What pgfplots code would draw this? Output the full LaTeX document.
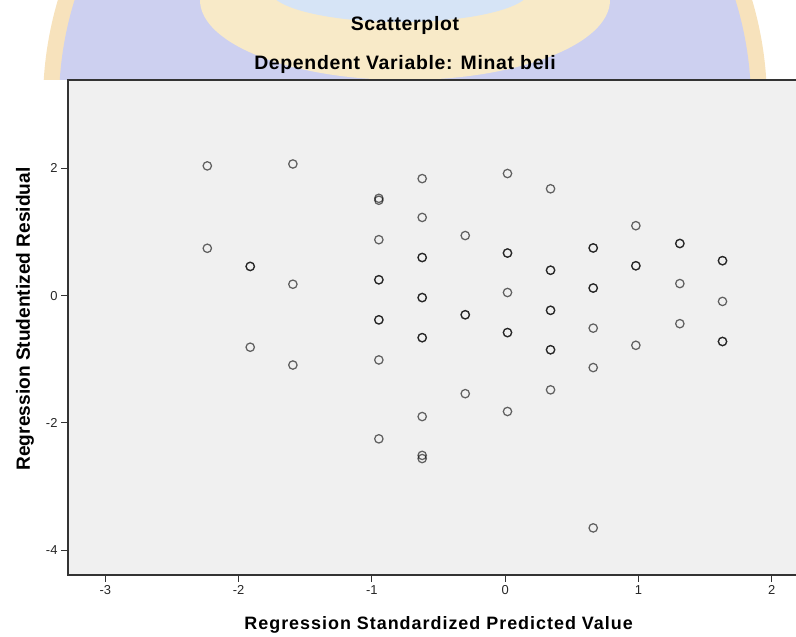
\documentclass[border=0pt]{standalone}
\usepackage{pgfplots}
\pgfplotsset{compat=1.18}
\usepackage{fontspec}
\setmainfont{Liberation Sans}
\newfontfamily\titlefont{Liberation Sans}[LetterSpace=3.5]
\newfontfamily\xlabfont{Liberation Sans}[LetterSpace=5.5]
\definecolor{lav}{RGB}{205,208,240}
\definecolor{ringc}{RGB}{247,226,188}
\definecolor{petal}{RGB}{248,234,200}
\definecolor{sky}{RGB}{214,228,246}
\definecolor{plotbg}{RGB}{240,240,240}

\pgfplotstableread{
x y
-2.235 2.04
-2.235 0.745
-1.913 0.46
-1.913 0.46
-1.913 -0.81
-1.593 2.07
-1.593 0.18
-1.593 -1.09
-0.948 1.50
-0.948 1.53
-0.948 0.88
-0.948 0.25
-0.948 0.25
-0.948 -0.38
-0.948 -0.38
-0.948 -1.01
-0.948 -2.25
-0.623 1.84
-0.623 1.23
-0.623 0.60
-0.623 0.60
-0.623 -0.03
-0.623 -0.03
-0.623 -0.66
-0.623 -0.66
-0.623 -1.90
-0.623 -2.51
-0.623 -2.56
-0.30 0.945
-0.30 -0.30
-0.30 -0.30
-0.30 -1.54
0.017 1.92
0.017 0.67
0.017 0.67
0.017 0.05
0.017 -0.58
0.017 -0.58
0.017 -1.82
0.34 1.68
0.34 0.40
0.34 0.40
0.34 -0.23
0.34 -0.23
0.34 -0.85
0.34 -0.85
0.34 -1.48
0.66 0.75
0.66 0.75
0.66 0.12
0.66 0.12
0.66 -0.51
0.66 -1.13
0.66 -3.65
0.98 1.10
0.98 0.47
0.98 0.47
0.98 -0.78
1.31 0.82
1.31 0.82
1.31 0.19
1.31 -0.44
1.63 0.55
1.63 0.55
1.63 -0.09
1.63 -0.72
1.63 -0.72
}\resid

\begin{document}
\begin{tikzpicture}[x=1bp,y=1bp]
\path[use as bounding box] (0,0) rectangle (796,637);
\clip (0,0) rectangle (796,637);
% watermark (top band only)
\begin{scope}
\clip (0,557) rectangle (796,637);
\fill[ringc] (405,534) circle (362);
\fill[lav] (405,534) circle (346);
\fill[petal] (405,637) ellipse (205 and 80);
\fill[sky] (400,647) ellipse (130 and 32);
\end{scope}
\begin{axis}[
  at={(68bp,62bp)}, anchor=south west,
  scale only axis,
  width=763.8bp, height=495bp,
  xmin=-3.28, xmax=2.45,
  ymin=-4.39, ymax=3.39,
  axis background/.style={fill=plotbg},
  axis line style={draw=black!80, line width=1.2bp},
  xtick={-3,-2,-1,0,1,2},
  xticklabels={-3,-2,-1,0,1,2},
  ytick={-4,-2,0,2},
  yticklabels={-4,-2,0,2},
  xtick pos=bottom, ytick pos=left,
  tick align=outside,
  major tick length=7bp,
  tick style={draw=black!80, line width=1.1bp},
  tick label style={font=\fontsize{13}{15}\selectfont, text=black!85},
  clip=false,
]
\addplot[only marks, mark=o, mark size=4.2bp,
  mark options={draw=black, draw opacity=0.6, line width=1.25bp, fill=none}]
  table[x=x, y=y] {\resid};
\end{axis}
\node[anchor=base, font=\titlefont\fontsize{19.5}{22}\selectfont\bfseries] at (405,606.3) {Scatterplot};
\node[anchor=base, font=\titlefont\fontsize{19.5}{22}\selectfont\bfseries] at (405,567.7) {Dependent Variable: Minat beli};
\node[anchor=base, font=\xlabfont\fontsize{18}{21}\selectfont\bfseries] at (438.6,7) {Regression Standardized Predicted Value};
\node[rotate=90, font=\fontsize{19.2}{21}\selectfont\bfseries] at (25,318) {Regression Studentized Residual};
\end{tikzpicture}
\end{document}
